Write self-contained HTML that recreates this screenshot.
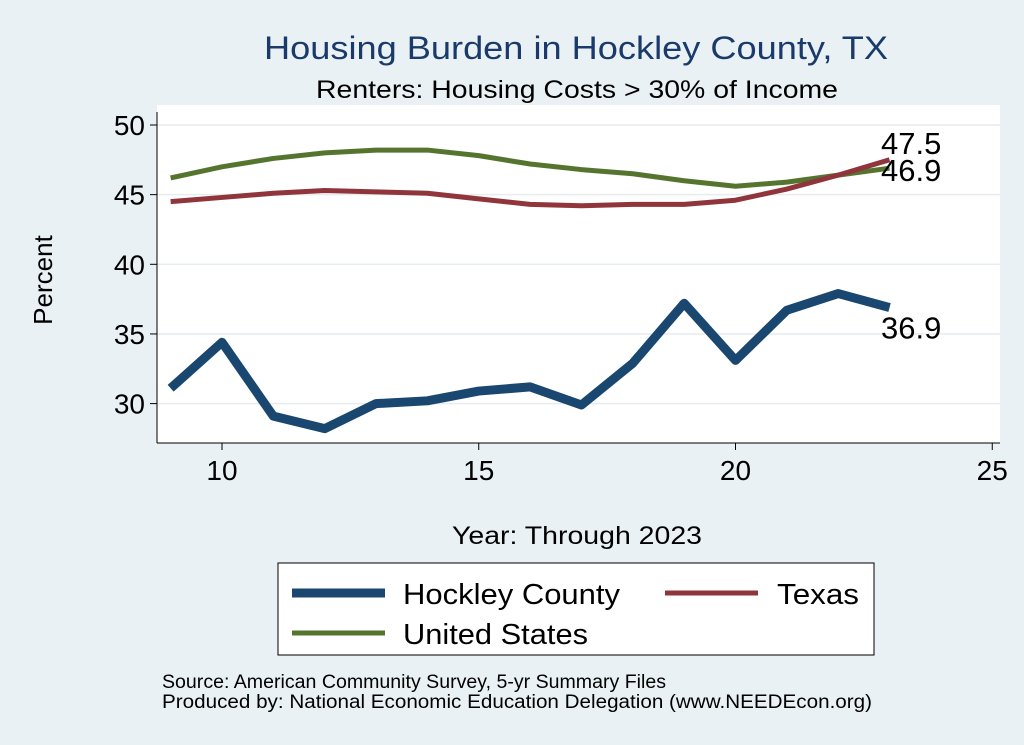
<!DOCTYPE html>
<html><head><meta charset="utf-8"><style>
body{margin:0;background:#e8eff2;font-family:"Liberation Sans",sans-serif}
svg{display:block}
</style></head><body>
<svg width="1024" height="745">
<rect x="0" y="0" width="1024" height="745" fill="#eaf1f4"/>
<rect x="157" y="105" width="843" height="338" fill="#fff"/>
<text x="264" y="59" font-size="32" fill="#1a3a6b" textLength="624" lengthAdjust="spacingAndGlyphs">Housing Burden in Hockley County, TX</text>
<text x="316" y="98" font-size="25" textLength="522" lengthAdjust="spacingAndGlyphs">Renters: Housing Costs &gt; 30% of Income</text>
<g id="grid"></g><g id="axes"></g><g id="series"></g>
<text x="52" y="280" font-size="26" text-anchor="middle" transform="rotate(-90 52 280)">Percent</text>
<text x="452" y="544" font-size="25" textLength="250" lengthAdjust="spacingAndGlyphs">Year: Through 2023</text>
<g>
<rect x="278" y="563" width="596" height="92" fill="#fff" stroke="#000" stroke-width="1"/>
<line x1="292" y1="593" x2="385" y2="593" stroke="#1a476f" stroke-width="9"/>
<text x="403" y="604" font-size="29" textLength="217" lengthAdjust="spacingAndGlyphs">Hockley County</text>
<line x1="665" y1="593" x2="758" y2="593" stroke="#90353b" stroke-width="5"/>
<text x="777" y="604" font-size="29" textLength="82" lengthAdjust="spacingAndGlyphs">Texas</text>
<line x1="292" y1="633" x2="385" y2="633" stroke="#55752f" stroke-width="5"/>
<text x="403" y="644" font-size="29" textLength="185" lengthAdjust="spacingAndGlyphs">United States</text>
</g>
<text x="162" y="688" font-size="19" textLength="504" lengthAdjust="spacingAndGlyphs">Source: American Community Survey, 5-yr Summary Files</text>
<text x="162" y="708" font-size="19" textLength="710" lengthAdjust="spacingAndGlyphs">Produced by: National Economic Education Delegation (www.NEEDEcon.org)</text>
</svg>
<script>
const years=[9,10,11,12,13,14,15,16,17,18,19,20,21,22,23];
const hockley=[31.1,34.4,29.1,28.2,30.0,30.2,30.9,31.2,29.9,32.9,37.2,33.1,36.7,37.9,36.9];
const texas=[44.5,44.8,45.1,45.3,45.2,45.1,44.7,44.3,44.2,44.3,44.3,44.6,45.4,46.4,47.5];
const us=[46.2,47.0,47.6,48.0,48.2,48.2,47.8,47.2,46.8,46.5,46.0,45.6,45.9,46.4,46.9];
const xTicks=[10,15,20,25];
const yTicks=[30,35,40,45,50];
const NS="http://www.w3.org/2000/svg";
const X=v=>222+(v-10)*51.35;
const Y=v=>125+(50-v)*13.93;
function mk(t,a,p){const e=document.createElementNS(NS,t);for(const k in a)e.setAttribute(k,a[k]);p.appendChild(e);return e;}
const g=document.getElementById('grid'),ax=document.getElementById('axes'),s=document.getElementById('series');
yTicks.forEach(v=>{
 const l=mk('line',{x1:157,x2:1000,y1:Y(v),y2:Y(v),stroke:'#e6ecef','stroke-width':1.5},g);
 
 
 const t=mk('line',{x1:150,x2:157,y1:Y(v),y2:Y(v),stroke:'#000'},ax);
 
 
 const tx=mk('text',{x:145,y:Y(v)+10,'font-size':28,'text-anchor':'end'},ax);tx.textContent=v;
 
 
});
xTicks.forEach(v=>{
 const t=mk('line',{x1:X(v),x2:X(v),y1:443,y2:450,stroke:'#000'},ax);
 
 
 const tx=mk('text',{x:X(v),y:480,'font-size':28,'text-anchor':'middle'},ax);tx.textContent=v;
 
 
});
const al=mk('line',{x1:157,x2:157,y1:112,y2:443,stroke:'#000'},ax);


const bl=mk('line',{x1:157,x2:1000,y1:443,y2:443,stroke:'#000'},ax);


function line(d,c,w,name){
 const p=mk('polyline',{points:years.map((y,i)=>X(y)+','+Y(d[i])).join(' '),fill:'none',stroke:c,'stroke-width':w,'stroke-linejoin':'round'},s);
 
 
}
line(us,'#55752f',5,'line-united-states');
line(texas,'#90353b',5,'line-texas');
line(hockley,'#1a476f',9,'line-hockley-county');
const n=years.length-1;
[[texas[n],Y(texas[n])-6,'label-texas-last'],[us[n],Y(us[n])+13,'label-us-last'],[hockley[n],Y(hockley[n])+31,'label-hockley-last']].forEach(a=>{
 const t=mk('text',{x:881,y:a[1],'font-size':31},s);t.textContent=a[0].toFixed(1);
 
 
});
</script>
</body></html>
